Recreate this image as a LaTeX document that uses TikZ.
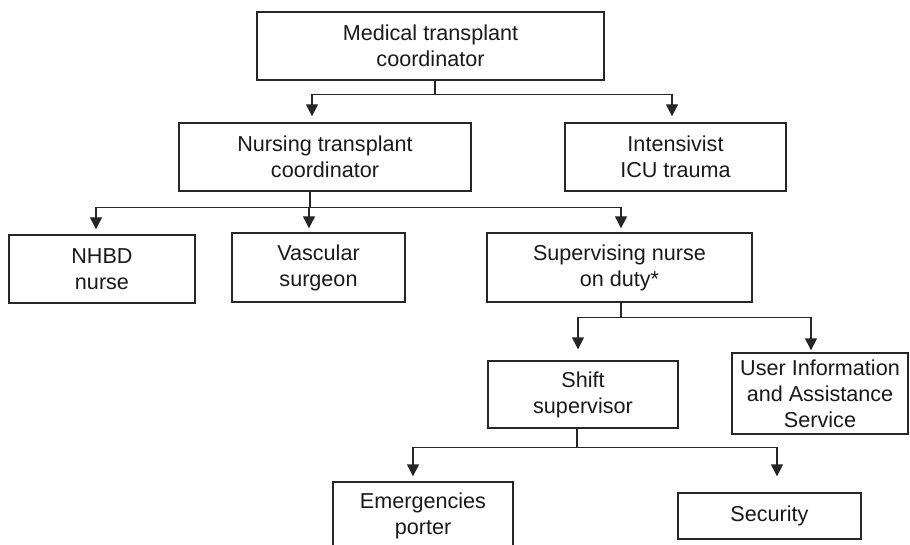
\documentclass[tikz,border=0pt]{standalone}
\usepackage{fontspec}
\setmainfont{Liberation Sans}
\usetikzlibrary{arrows.meta}

\tikzset{
  orgbox/.style={draw=black!85, line width=0.7pt, inner sep=0pt, align=center,
    font=\fontsize{10.8}{13}\selectfont, text=black!90},
  arr/.style={draw=black!85, line width=0.7pt, -{Triangle[length=6pt,width=6pt]}},
}

\begin{document}
\begin{tikzpicture}[x=0.5pt,y=-0.5pt]
  \useasboundingbox (0,0) rectangle (910,545);
  \clip (0,0) rectangle (910,545);

  \node (medical)     at (430.5,46)  [orgbox, minimum width=173.5pt, minimum height=34pt] {Medical transplant\\coordinator};
  \node (nursing)     at (325,157)   [orgbox, minimum width=146pt, minimum height=34pt] {Nursing transplant\\coordinator};
  \node (intensivist) at (675.5,157) [orgbox, minimum width=110.5pt, minimum height=34pt] {Intensivist\\ICU trauma};
  \node (nhbd)        at (102,269)   [orgbox, minimum width=93pt, minimum height=34pt] {NHBD\\nurse};
  \node (vascular)    at (318.5,267.5) [orgbox, minimum width=86.5pt, minimum height=34.5pt] {Vascular\\surgeon};
  \node (supervising) at (619.5,267.5) [orgbox, minimum width=132.5pt, minimum height=34.5pt] {Supervising nurse\\on duty*};
  \node (shift)       at (583,394.5) [orgbox, minimum width=95pt, minimum height=33.5pt] {Shift\\supervisor};
  \node (userinfo)    at (820,393.5) [orgbox, minimum width=88pt, minimum height=40.5pt] {User Information\\and Assistance\\Service};
  \node (emergencies) at (423,516)   [orgbox, minimum width=90pt, minimum height=34pt] {Emergencies\\porter};
  \node (security)    at (769.5,516) [orgbox, minimum width=91.5pt, minimum height=23pt] {Security};

  %\draw[style=help lines] (0,0) grid (910,545);
  \draw[arr, shorten >=3pt] ([xshift=2.25pt]medical.south) -- ++(0,14) -| ([xshift=-6.5pt]nursing.north);
  \draw[arr, shorten >=3pt] ([xshift=2.25pt]medical.south) -- ++(0,14) -| ([xshift=-1.75pt]intensivist.north);

  \draw[arr, shorten >=2.5pt] ([xshift=-7.5pt]nursing.south) -- ++(0,16) -| ([xshift=-3pt]nhbd.north);
  \draw[arr, shorten >=2pt]   ([xshift=-7.5pt]nursing.south) -- ++(0,16) -| ([xshift=-4.75pt]vascular.north);
  \draw[arr, shorten >=2pt]   ([xshift=-7.5pt]nursing.south) -- ++(0,16) -| ([xshift=0.75pt]supervising.north);

  \draw[arr, shorten >=5.5pt] ([xshift=0.75pt]supervising.south) -- ++(0,15) -| ([xshift=-2.5pt]shift.north);
  \draw[arr, shorten >=1pt]   ([xshift=0.75pt]supervising.south) -- ++(0,15) -| ([xshift=-4.5pt]userinfo.north);

  \draw[arr, shorten >=2.5pt] ([xshift=-3pt]shift.south) -- ++(0,19) -| ([xshift=-5pt]emergencies.north);
  \draw[arr, shorten >=8pt]   ([xshift=-3pt]shift.south) -- ++(0,19) -| ([xshift=3.75pt]security.north);
\end{tikzpicture}
\end{document}
